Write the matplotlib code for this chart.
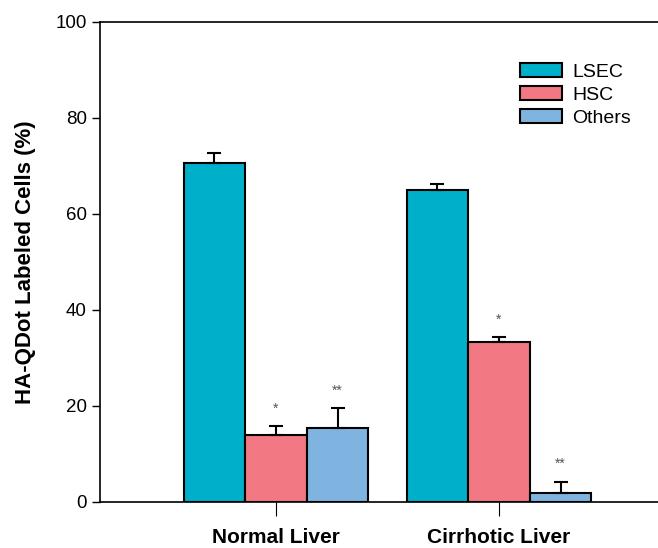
import matplotlib
matplotlib.use("Agg")
import matplotlib.pyplot as plt
import numpy as np

# ── data ──────────────────────────────────────────────────────────────
groups = ["Normal Liver", "Cirrhotic Liver"]
cell_types = ["LSEC", "HSC", "Others"]
means = {
    "LSEC":   [70.6, 65.0],
    "HSC":    [14.0, 33.3],
    "Others": [15.5, 1.8],
}
errors = {
    "LSEC":   [2.1, 1.3],
    "HSC":    [1.8, 1.0],
    "Others": [4.1, 2.4],
}
marks = {
    "LSEC":   ["", ""],
    "HSC":    ["*", "*"],
    "Others": ["**", "**"],
}
yticks = [0, 20, 40, 60, 80, 100]

# ── style ─────────────────────────────────────────────────────────────
colors = {"LSEC": "#00AFC9", "HSC": "#F27883", "Others": "#7FB4E1"}
plt.rcParams["font.family"] = ["Liberation Sans", "DejaVu Sans"]

fig = plt.figure(figsize=(6.58, 5.48), dpi=100)
ax = fig.add_axes([0.152, 0.084, 0.848, 0.876])

x = np.arange(len(groups))
w = 0.276
for i, ct in enumerate(cell_types):
    pos = x + (i - 1) * w
    ax.bar(pos, means[ct], width=w, color=colors[ct], edgecolor="black",
           linewidth=1.5, label=ct, zorder=2)
    ax.errorbar(pos, means[ct], yerr=[np.zeros(len(groups)), errors[ct]],
                fmt="none", ecolor="black", elinewidth=1.5, capsize=5,
                capthick=1.5, zorder=3)
    for p, m, e, s in zip(pos, means[ct], errors[ct], marks[ct]):
        if s:
            ax.text(p, m + e + 2.2, s, ha="center", va="bottom",
                    fontsize=10, color="#555555")

ax.set_xlim(-0.789, 1.713)
ax.set_ylim(0, 100)
ax.set_yticks(yticks)
ax.set_xticks(x)
ax.set_xticklabels(groups, fontsize=15, fontweight="bold")
ax.tick_params(axis="y", labelsize=13.5, length=6, width=1, direction="out")
ax.tick_params(axis="x", length=10, width=0.8, direction="out", pad=9)
ax.set_ylabel("HA-QDot Labeled Cells (%)", fontsize=16, fontweight="bold",
              labelpad=14)

for sp in ["left", "top", "bottom"]:
    ax.spines[sp].set_linewidth(1.2)
ax.spines["right"].set_visible(False)

ax.legend(loc="upper left", bbox_to_anchor=(0.738, 0.93), fontsize=14,
          frameon=False, handlelength=2.2, handleheight=0.72,
          labelspacing=0.26, handletextpad=0.5, borderaxespad=0)

fig.savefig("out.png", dpi=100)
